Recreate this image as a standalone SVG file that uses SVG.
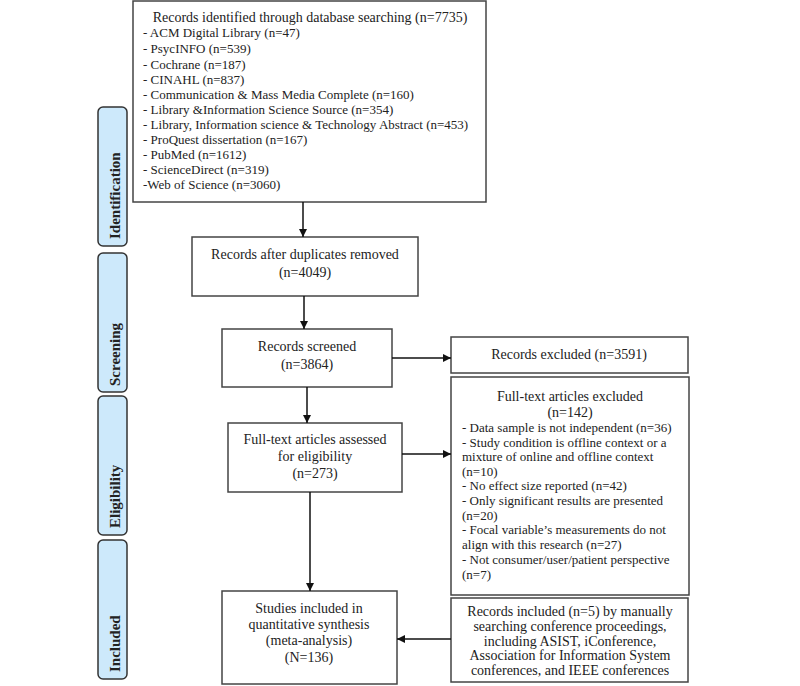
<svg xmlns="http://www.w3.org/2000/svg" width="800" height="686" viewBox="0 0 800 686">
<defs>
<style>
text{font-family:"Liberation Serif","Times New Roman",serif;font-size:14px;fill:#222}
.sm{font-size:13px}
.box{fill:#fff;stroke:#444;stroke-width:1.5}
.side{fill:#cde9fb;stroke:#333;stroke-width:1.5}
.st{font-weight:bold;font-size:15px}
.c{text-anchor:middle}
.ln{stroke:#111;stroke-width:1.5;fill:none}
</style>
<marker id="ah" viewBox="0 0 10 10" refX="10" refY="5" markerWidth="8" markerHeight="8" markerUnits="userSpaceOnUse" orient="auto">
<path d="M0,0 L10,5 L0,10 z" fill="#111"/>
</marker>
</defs>
<rect width="800" height="686" fill="#fff"/>

<g id="phase-identification"><rect class="side" x="98" y="107" width="29" height="139" rx="5"/><text class="st" transform="translate(120,239) rotate(-90)">Identification</text></g>
<g id="phase-screening"><rect class="side" x="98" y="253" width="29" height="139" rx="5"/><text class="st" transform="translate(120,386) rotate(-90)">Screening</text></g>
<g id="phase-eligibility"><rect class="side" x="98" y="396" width="29" height="139" rx="5"/><text class="st" transform="translate(120,528) rotate(-90)">Eligibility</text></g>
<g id="phase-included"><rect class="side" x="98" y="540" width="29" height="139" rx="5"/><text class="st" transform="translate(120,672) rotate(-90)">Included</text></g>

<g id="identified">
<rect class="box" x="133" y="1" width="353" height="201"/>
<text class="c" x="310" y="22">Records identified through database searching (n=7735)</text>
<text class="sm" x="143" y="37">- ACM Digital Library (n=47)</text>
<text class="sm" x="143" y="53">-  PsycINFO (n=539)</text>
<text class="sm" x="143" y="69">- Cochrane (n=187)</text>
<text class="sm" x="143" y="84">- CINAHL (n=837)</text>
<text class="sm" x="143" y="99">- Communication &amp; Mass Media Complete (n=160)</text>
<text class="sm" x="143" y="114">- Library &amp;Information Science Source (n=354)</text>
<text class="sm" x="143" y="129">- Library, Information science &amp; Technology Abstract (n=453)</text>
<text class="sm" x="143" y="144">- ProQuest dissertation (n=167)</text>
<text class="sm" x="143" y="159">- PubMed (n=1612)</text>
<text class="sm" x="143" y="174">- ScienceDirect (n=319)</text>
<text class="sm" x="143" y="189">-Web of Science (n=3060)</text>
</g>

<g id="duplicates">
<rect class="box" x="192" y="237" width="226" height="59"/>
<text class="c" x="305" y="259">Records after duplicates removed</text>
<text class="c" x="305" y="277">(n=4049)</text>
</g>

<g id="screened">
<rect class="box" x="222" y="329" width="170" height="58"/>
<text class="c" x="307" y="351">Records screened</text>
<text class="c" x="307" y="369">(n=3864)</text>
</g>

<g id="excluded">
<rect class="box" x="451" y="337" width="237" height="36"/>
<text class="c" x="569" y="359">Records excluded (n=3591)</text>
</g>

<g id="assessed">
<rect class="box" x="228" y="423" width="174" height="69"/>
<text class="c" x="315" y="444">Full-text articles assessed</text>
<text class="c" x="315" y="461">for eligibility</text>
<text class="c" x="315" y="478">(n=273)</text>
</g>

<g id="ft-excluded">
<rect class="box" x="451" y="377" width="238" height="218"/>
<text class="c" x="570" y="401">Full-text articles excluded</text>
<text class="c" x="570" y="417">(n=142)</text>
<text class="sm" x="462" y="432">- Data sample is not independent (n=36)</text>
<text class="sm" x="462" y="447">- Study condition is offline context or a</text>
<text class="sm" x="462" y="461">mixture of online and offline context</text>
<text class="sm" x="462" y="476">(n=10)</text>
<text class="sm" x="462" y="490">- No effect size reported (n=42)</text>
<text class="sm" x="462" y="505">- Only significant results are presented</text>
<text class="sm" x="462" y="520">(n=20)</text>
<text class="sm" x="462" y="534">- Focal variable’s measurements do not</text>
<text class="sm" x="462" y="549">align with this research (n=27)</text>
<text class="sm" x="462" y="564">- Not consumer/user/patient perspective</text>
<text class="sm" x="462" y="579">(n=7)</text>
</g>

<g id="manual">
<rect class="box" x="451" y="598" width="237" height="84"/>
<text class="c" x="570" y="616">Records included (n=5) by manually</text>
<text class="c" x="570" y="631">searching conference proceedings,</text>
<text class="c" x="570" y="646">including ASIST, iConference,</text>
<text class="c" x="570" y="660">Association for Information System</text>
<text class="c" x="570" y="675">conferences, and IEEE conferences</text>
</g>

<g id="studies">
<rect class="box" x="222" y="591" width="175" height="93"/>
<text class="c" x="309" y="613">Studies included in</text>
<text class="c" x="309" y="629">quantitative synthesis</text>
<text class="c" x="309" y="645">(meta-analysis)</text>
<text class="c" x="309" y="662">(N=136)</text>
</g>

<g id="connectors">
<line class="ln" x1="303" y1="202" x2="303" y2="237" marker-end="url(#ah)"/>
<line class="ln" x1="304" y1="296" x2="304" y2="329" marker-end="url(#ah)"/>
<line class="ln" x1="392" y1="358" x2="451" y2="358" marker-end="url(#ah)"/>
<line class="ln" x1="307" y1="387" x2="307" y2="423" marker-end="url(#ah)"/>
<line class="ln" x1="402" y1="454" x2="451" y2="454" marker-end="url(#ah)"/>
<line class="ln" x1="310" y1="492" x2="310" y2="591" marker-end="url(#ah)"/>
<line class="ln" x1="451" y1="639" x2="397" y2="639" marker-end="url(#ah)"/>
</g>
</svg>
